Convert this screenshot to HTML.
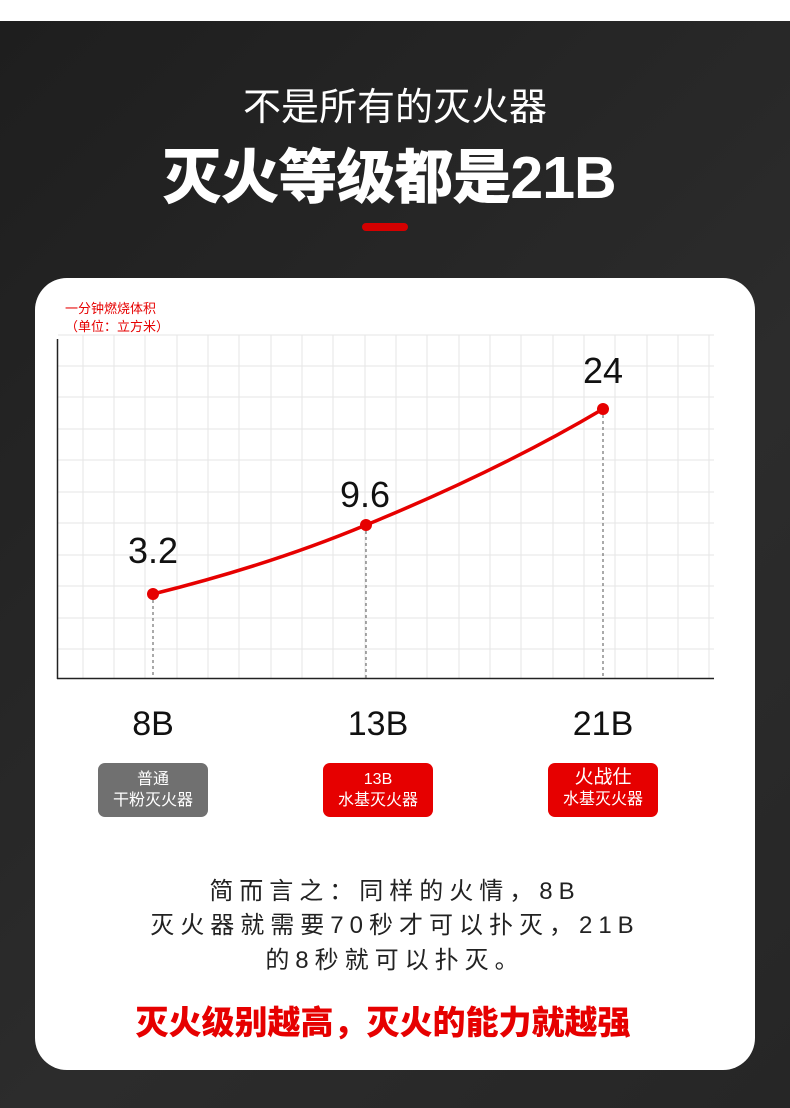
<!DOCTYPE html>
<html><head><meta charset="utf-8"><style>
*{margin:0;padding:0;box-sizing:border-box}
body{width:790px;height:1108px;position:relative;overflow:hidden;background:#fff;font-family:"Liberation Sans","Noto Sans CJK SC",sans-serif}
.bg{position:absolute;left:0;top:21px;width:790px;height:1087px;background:linear-gradient(135deg,#1e1e1e,#2c2c2c 60%,#262626)}
.t{position:absolute;left:0;width:790px;text-align:center;color:#fff}
.card{position:absolute;left:35px;top:278px;width:720px;height:792px;background:#fff;border-radius:32px}
.box{position:absolute;top:763px;width:110px;height:54px;border-radius:7px;color:#fff;font-size:16px;line-height:21px;text-align:center;padding-top:6px}
.p{position:absolute;left:0;width:790px;text-align:center;font-size:24px;letter-spacing:6px;color:#222}
</style></head><body>
<div class="bg"></div>
<div class="t" style="top:76px;font-size:38px">不是所有的灭火器</div>
<div class="t" style="top:130px;left:-6px;font-size:59px;font-weight:900;letter-spacing:-1px">灭火等级都是21B</div>
<div style="position:absolute;left:362px;top:223px;width:46px;height:8px;border-radius:4px;background:#d40000"></div>
<div class="card"></div>
<svg style="position:absolute;left:0;top:0" width="790" height="1108">
<g stroke="#e6e6e6" stroke-width="1">
<line x1="58" y1="335" x2="714" y2="335"/><line x1="58" y1="366" x2="714" y2="366"/><line x1="58" y1="397" x2="714" y2="397"/><line x1="58" y1="429" x2="714" y2="429"/><line x1="58" y1="460" x2="714" y2="460"/><line x1="58" y1="492" x2="714" y2="492"/><line x1="58" y1="523" x2="714" y2="523"/><line x1="58" y1="555" x2="714" y2="555"/><line x1="58" y1="586" x2="714" y2="586"/><line x1="58" y1="618" x2="714" y2="618"/><line x1="58" y1="649" x2="714" y2="649"/>
<line x1="83" y1="335" x2="83" y2="678"/><line x1="114" y1="335" x2="114" y2="678"/><line x1="145" y1="335" x2="145" y2="678"/><line x1="177" y1="335" x2="177" y2="678"/><line x1="208" y1="335" x2="208" y2="678"/><line x1="239" y1="335" x2="239" y2="678"/><line x1="271" y1="335" x2="271" y2="678"/><line x1="302" y1="335" x2="302" y2="678"/><line x1="333" y1="335" x2="333" y2="678"/><line x1="365" y1="335" x2="365" y2="678"/><line x1="396" y1="335" x2="396" y2="678"/><line x1="427" y1="335" x2="427" y2="678"/><line x1="459" y1="335" x2="459" y2="678"/><line x1="490" y1="335" x2="490" y2="678"/><line x1="521" y1="335" x2="521" y2="678"/><line x1="553" y1="335" x2="553" y2="678"/><line x1="584" y1="335" x2="584" y2="678"/><line x1="615" y1="335" x2="615" y2="678"/><line x1="647" y1="335" x2="647" y2="678"/><line x1="678" y1="335" x2="678" y2="678"/><line x1="709" y1="335" x2="709" y2="678"/>
</g>
<line x1="57.5" y1="339" x2="57.5" y2="679" stroke="#222" stroke-width="1.5"/>
<line x1="57" y1="678.5" x2="714" y2="678.5" stroke="#222" stroke-width="1.5"/>
<g stroke="#555" stroke-width="1" stroke-dasharray="3,3">
<line x1="153" y1="594" x2="153" y2="678"/><line x1="366" y1="525" x2="366" y2="678"/><line x1="603" y1="409" x2="603" y2="678"/>
</g>
<path d="M153 594 Q270 565 366 525 Q500 470 603 409" fill="none" stroke="#e60000" stroke-width="3.5"/>
<circle cx="153" cy="594" r="6" fill="#e60000"/><circle cx="366" cy="525" r="6" fill="#e60000"/><circle cx="603" cy="409" r="6" fill="#e60000"/>
<g font-family="Liberation Sans,sans-serif" font-size="36" fill="#111" text-anchor="middle">
<text x="153" y="563">3.2</text><text x="365" y="507">9.6</text><text x="603" y="383">24</text>
<text x="153" y="735" font-size="34">8B</text><text x="378" y="735" font-size="34">13B</text><text x="603" y="735" font-size="34">21B</text>
</g>
</svg>
<div style="position:absolute;left:65px;top:300px;color:#e60000;font-size:13px;line-height:18px">一分钟燃烧体积<br>（单位：立方米）</div>
<div class="box" style="left:98px;background:#707070">普通<br>干粉灭火器</div>
<div class="box" style="left:323px;background:#e60000">13B<br>水基灭火器</div>
<div class="box" style="left:548px;background:#e60000;font-size:19px;padding-top:4px">火战仕<br><span style="font-size:16px">水基灭火器</span></div>
<div class="p" style="top:871px">简而言之：同样的火情，8B</div>
<div class="p" style="top:905px">灭火器就需要70秒才可以扑灭，21B</div>
<div class="p" style="top:940px">的8秒就可以扑灭。</div>
<div class="t" style="top:996px;left:-12px;font-size:33px;font-weight:900;color:#e60000">灭火级别越高，灭火的能力就越强</div>
</body></html>
